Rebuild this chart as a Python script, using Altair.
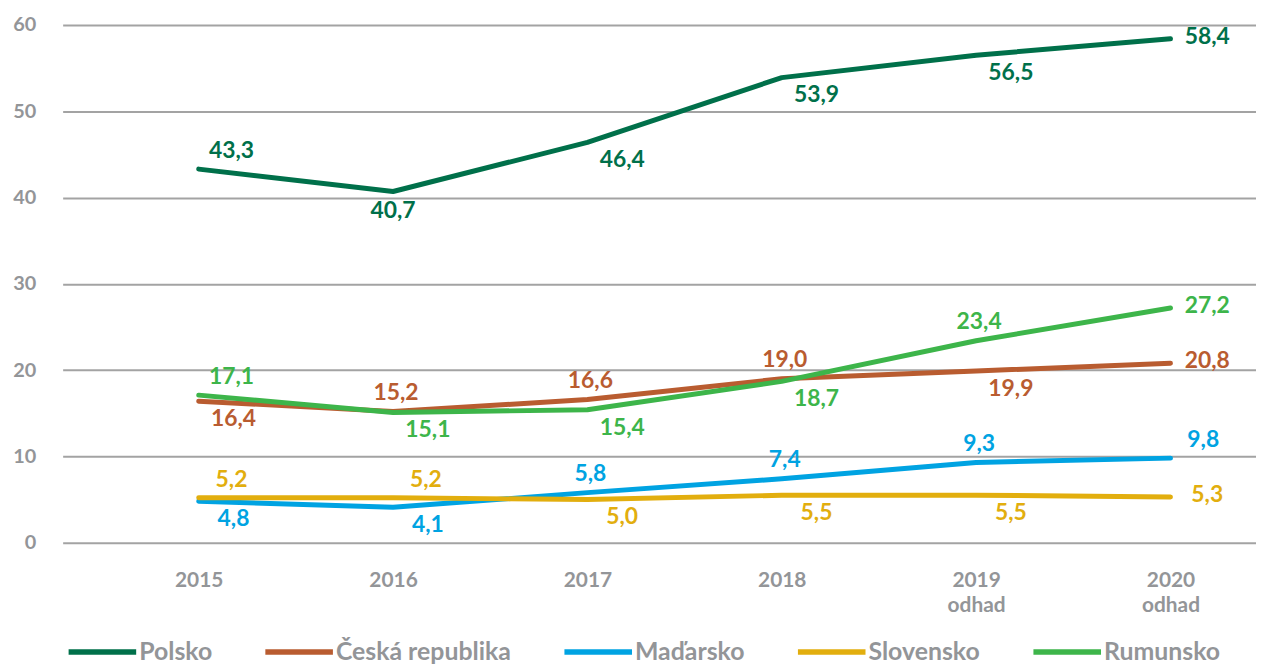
import altair as alt
import pandas as pd

years = [2015, 2016, 2017, 2018, 2019, 2020]
estimate_years = [2019, 2020]
estimate_note = "odhad"
series_names = ["Polsko", "Česká republika", "Maďarsko", "Slovensko", "Rumunsko"]
colors = ["#00704A", "#B95C30", "#00A3E2", "#E2AE0E", "#3DB54A"]

polsko = [43.3, 40.7, 46.4, 53.9, 56.5, 58.4]
ceska = [16.4, 15.2, 16.6, 19.0, 19.9, 20.8]
madarsko = [4.8, 4.1, 5.8, 7.4, 9.3, 9.8]
slovensko = [5.2, 5.2, 5.0, 5.5, 5.5, 5.3]
rumunsko = [17.1, 15.1, 15.4, 18.7, 23.4, 27.2]

# label placement tags (a = above, ar = above right, b = below, br = below right, r = right)
place_polsko = ["ar", "b", "br", "br", "br", "r"]
place_ceska = ["br", "a", "a", "a", "br", "r"]
place_madarsko = ["br", "br", "a", "a", "a", "ar"]
place_slovensko = ["ar", "ar", "br", "br", "br", "r"]
place_rumunsko = ["ar", "br", "br", "br", "a", "r"]

all_values = [polsko, ceska, madarsko, slovensko, rumunsko]
all_places = [place_polsko, place_ceska, place_madarsko, place_slovensko, place_rumunsko]

rows = []
for name, vals, places in zip(series_names, all_values, all_places):
    for yr, v, p in zip(years, vals, places):
        rows.append({"series": name, "year": yr, "value": v, "place": p,
                     "label": f"{v:.1f}".replace(".", ",")})
df = pd.DataFrame(rows)

FONT = "Lato"
GRAY = "#939598"

label_expr = ("indexof([" + ",".join(str(y) for y in estimate_years) + "], datum.value) >= 0"
              " ? [datum.label, '" + estimate_note + "'] : datum.label")

x = alt.X("year:Q",
          scale=alt.Scale(domain=[2014.3, 2020.44], nice=False, zero=False),
          axis=alt.Axis(values=years, format="d", labelExpr=label_expr, grid=False,
                        domain=False, ticks=False, tickSize=0, labelPadding=27,
                        labelFont=FONT, labelFontSize=21, labelFontWeight="bold",
                        labelColor=GRAY, labelLineHeight=25, labelFlush=False,
                        labelOverlap=False, title=None))
y = alt.Y("value:Q",
          scale=alt.Scale(domain=[0, 60], nice=False),
          axis=alt.Axis(values=[0, 10, 20, 30, 40, 50, 60], format="d", grid=True,
                        gridColor="#A3A3A3", gridWidth=2, domain=False, ticks=False,
                        tickSize=0, labelPadding=27, labelFont=FONT, labelFontSize=20,
                        labelFontWeight="bold", labelColor=GRAY, title=None))

color_scale = alt.Scale(domain=series_names, range=colors)

base = alt.Chart(df)

lines = base.mark_line(strokeWidth=5, strokeCap="round", strokeJoin="round").encode(
    x=x, y=y,
    color=alt.Color("series:N", scale=color_scale, sort=series_names,
                    legend=alt.Legend(orient="none", legendX=3, legendY=594,
                                      direction="horizontal", symbolType="stroke",
                                      symbolSize=4624, symbolStrokeWidth=5.5,
                                      labelFont=FONT, labelFontSize=25,
                                      labelFontWeight="bold", labelColor=GRAY,
                                      labelOffset=0, labelLimit=400,
                                      columnPadding=42, padding=0,
                                      title=None)),
)

offsets = {"a": (3, -19), "ar": (33, -18), "b": (0, 20), "br": (35, 18), "r": (37, -2)}
text_layers = []
for tag, (ddx, ddy) in offsets.items():
    text_layers.append(
        base.transform_filter(alt.datum.place == tag)
        .mark_text(font=FONT, fontSize=23, fontWeight="bold", dx=ddx, dy=ddy,
                   align="center", baseline="middle")
        .encode(x=x, y=y, text="label:N",
                color=alt.Color("series:N", scale=color_scale, legend=None))
    )

chart = alt.layer(lines, *text_layers).properties(
    width=1201, height=521,
    autosize=alt.AutoSizeParams(type="none"),
    padding={"left": 55, "top": 15, "right": 0, "bottom": 124},
).configure_view(stroke=None)

chart.save("out.html", embed_options={"renderer": "svg", "actions": False})
